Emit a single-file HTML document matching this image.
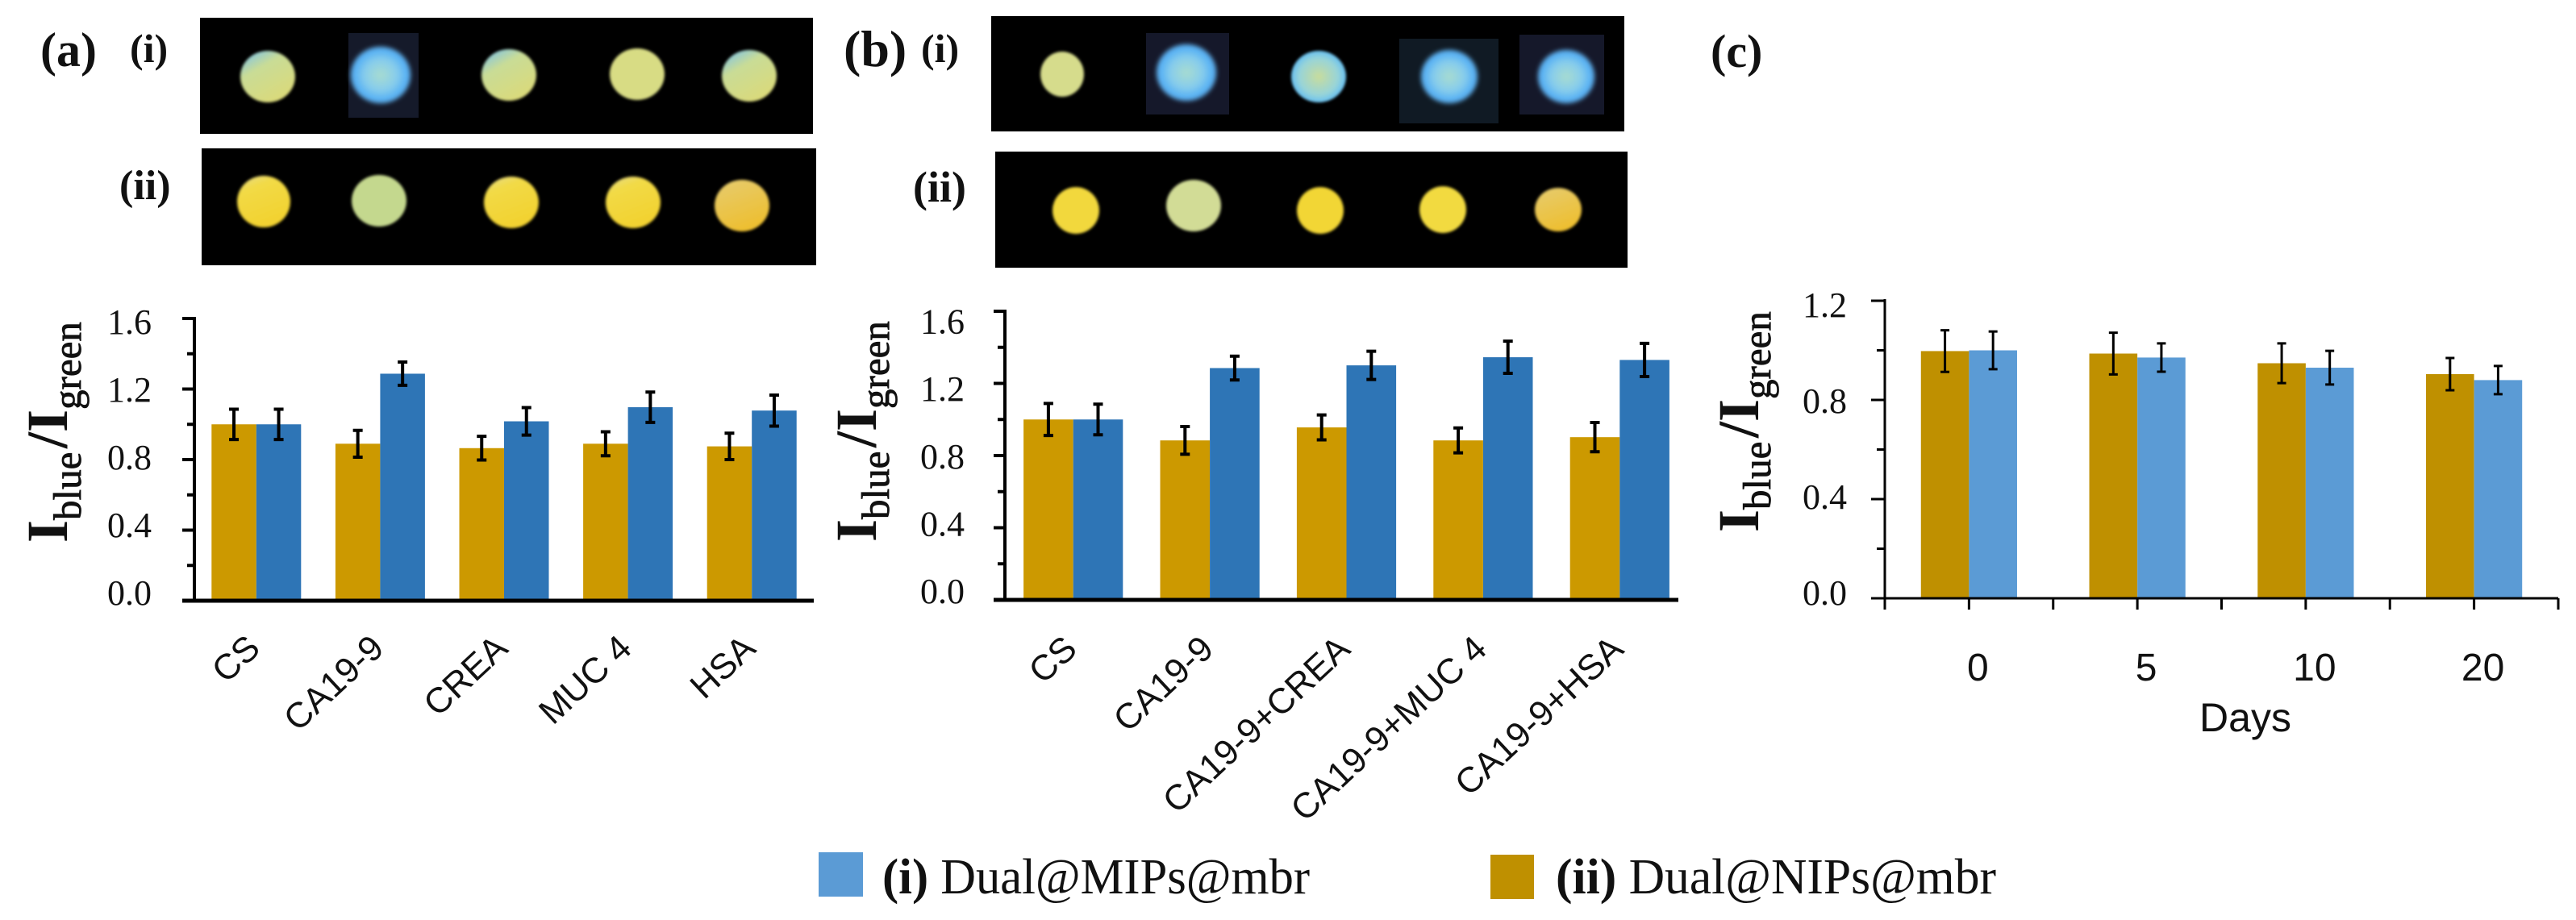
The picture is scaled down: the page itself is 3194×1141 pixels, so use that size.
<!DOCTYPE html>
<html lang="en">
<head>
<meta charset="utf-8">
<title>Dual@MIPs@mbr selectivity and stability</title>
<style>
html,body{margin:0;padding:0;background:#fff;width:3194px;height:1141px;overflow:hidden}
svg{display:block}
.serif{font-family:"Liberation Serif",serif}
.sans{font-family:"Liberation Sans",sans-serif}
.plabel{font-family:"Liberation Serif",serif;font-weight:bold;fill:#111}
</style>
</head>
<body>
<svg id="figure" xmlns="http://www.w3.org/2000/svg" width="3194" height="1141" viewBox="0 0 3194 1141">
<defs>
<linearGradient id="paleSpot" x1="0.15" y1="0" x2="0.75" y2="1"><stop offset="0" stop-color="#7fc4e6"/><stop offset="0.33" stop-color="#c9dc96"/><stop offset="1" stop-color="#dcd978"/></linearGradient>
<radialGradient id="blueSpot"><stop offset="0" stop-color="#a8dcd0"/><stop offset="0.55" stop-color="#86ccec"/><stop offset="0.9" stop-color="#52aef5"/><stop offset="1" stop-color="#6ab8f0"/></radialGradient>
<radialGradient id="blueGreenSpot"><stop offset="0" stop-color="#c8dc9c"/><stop offset="0.7" stop-color="#98d4d8"/><stop offset="1" stop-color="#68c0f0"/></radialGradient>
<linearGradient id="yellowSpot" x1="0" y1="0" x2="0.4" y2="1"><stop offset="0" stop-color="#e6dc90"/><stop offset="0.3" stop-color="#f2da46"/><stop offset="1" stop-color="#f2d230"/></linearGradient>
<linearGradient id="orangeSpot" x1="0" y1="0" x2="0.4" y2="1"><stop offset="0" stop-color="#e6cc70"/><stop offset="1" stop-color="#edbf32"/></linearGradient>
<filter id="soft" x="-20%" y="-20%" width="140%" height="140%"><feGaussianBlur stdDeviation="1.5"/></filter>
<filter id="softer" x="-20%" y="-20%" width="140%" height="140%"><feGaussianBlur stdDeviation="3"/></filter>
</defs>

<text class="plabel" x="50" y="82" font-size="60">(a)</text>
<text class="plabel" x="161" y="77" font-size="50">(i)</text>
<text class="plabel" x="148" y="247" font-size="52">(ii)</text>
<text class="plabel" x="1046" y="82" font-size="64">(b)</text>
<text class="plabel" x="1142" y="77" font-size="50">(i)</text>
<text class="plabel" x="1132" y="250" font-size="54">(ii)</text>
<text class="plabel" x="2121" y="83" font-size="58">(c)</text>

<g>
<rect x="248" y="22" width="760" height="144" fill="#000"/>
<rect x="432" y="41" width="87" height="105" fill="#151a2a"/>
<ellipse cx="332" cy="95" rx="34" ry="32" fill="url(#paleSpot)" filter="url(#soft)"/>
<ellipse cx="472" cy="93" rx="37" ry="35" fill="url(#blueSpot)" filter="url(#softer)"/>
<ellipse cx="631" cy="93" rx="34" ry="32" fill="url(#paleSpot)" filter="url(#soft)"/>
<ellipse cx="790" cy="92" rx="34" ry="32" fill="#d8dc84" filter="url(#soft)"/>
<ellipse cx="929" cy="94" rx="34" ry="32" fill="url(#paleSpot)" filter="url(#soft)"/>
</g>
<g>
<rect x="250" y="184" width="762" height="145" fill="#000"/>
<ellipse cx="327" cy="250" rx="33" ry="32" fill="url(#yellowSpot)" filter="url(#soft)"/>
<ellipse cx="470" cy="249" rx="34" ry="32" fill="#c4d88e" filter="url(#soft)"/>
<ellipse cx="634" cy="251" rx="34" ry="32" fill="url(#yellowSpot)" filter="url(#soft)"/>
<ellipse cx="785" cy="251" rx="34" ry="32" fill="url(#yellowSpot)" filter="url(#soft)"/>
<ellipse cx="920" cy="255" rx="34" ry="32" fill="url(#orangeSpot)" filter="url(#soft)"/>
</g>
<g>
<rect x="1229" y="20" width="785" height="143" fill="#000"/>
<rect x="1421" y="41" width="103" height="101" fill="#15182a"/>
<rect x="1735" y="48" width="123" height="105" fill="#101a24"/>
<rect x="1884" y="43" width="105" height="99" fill="#15182a"/>
<ellipse cx="1317" cy="92" rx="27" ry="28" fill="#d6dc8c" filter="url(#soft)"/>
<ellipse cx="1471" cy="90" rx="37" ry="35" fill="url(#blueSpot)" filter="url(#softer)"/>
<ellipse cx="1635" cy="95" rx="34" ry="32" fill="url(#blueGreenSpot)" filter="url(#soft)"/>
<ellipse cx="1797" cy="95" rx="35" ry="33" fill="url(#blueSpot)" filter="url(#softer)"/>
<ellipse cx="1942" cy="95" rx="35" ry="33" fill="url(#blueSpot)" filter="url(#softer)"/>
</g>
<g>
<rect x="1234" y="188" width="784" height="144" fill="#000"/>
<ellipse cx="1334" cy="261" rx="29" ry="29" fill="#f2d83e" filter="url(#soft)"/>
<ellipse cx="1480" cy="255" rx="34" ry="32" fill="#d2dc96" filter="url(#soft)"/>
<ellipse cx="1637" cy="261" rx="29" ry="29" fill="#f2d634" filter="url(#soft)"/>
<ellipse cx="1789" cy="260" rx="29" ry="29" fill="#f2da40" filter="url(#soft)"/>
<ellipse cx="1932" cy="260" rx="29" ry="27" fill="url(#orangeSpot)" filter="url(#soft)"/>
</g>

<g>
<rect x="1015" y="1057" width="55" height="55" fill="#5B9BD5"/>
<text class="serif" x="1094" y="1108" font-size="62" textLength="530" lengthAdjust="spacingAndGlyphs" fill="#111"><tspan font-weight="bold">(i)</tspan> Dual@MIPs@mbr</text>
<rect x="1848" y="1060" width="54" height="55" fill="#BF9000"/>
<text class="serif" x="1929" y="1108" font-size="62" textLength="546" lengthAdjust="spacingAndGlyphs" fill="#111"><tspan font-weight="bold">(ii)</tspan> Dual@NIPs@mbr</text>
</g>
</svg>

<script>
const categoriesA = ["CS", "CA19-9", "CREA", "MUC 4", "HSA"];
const nipValuesA = [1.0, 0.89, 0.865, 0.89, 0.875];
const mipValuesA = [1.0, 1.287, 1.017, 1.097, 1.078];
const nipErrorsA = [0.086, 0.076, 0.067, 0.068, 0.075];
const mipErrorsA = [0.086, 0.066, 0.078, 0.086, 0.088];

const categoriesB = ["CS", "CA19-9", "CA19-9+CREA", "CA19-9+MUC 4", "CA19-9+HSA"];
const nipValuesB = [1.0, 0.884, 0.956, 0.884, 0.902];
const mipValuesB = [1.0, 1.285, 1.3, 1.345, 1.33];
const nipErrorsB = [0.089, 0.077, 0.069, 0.069, 0.081];
const mipErrorsB = [0.085, 0.066, 0.078, 0.089, 0.092];

const categoriesC = ["0", "5", "10", "20"];
const nipValuesC = [0.997, 0.987, 0.948, 0.904];
const mipValuesC = [1.0, 0.971, 0.93, 0.88];
const nipErrorsC = [0.084, 0.084, 0.08, 0.065];
const mipErrorsC = [0.076, 0.057, 0.068, 0.057];

const tickLabelsAB = ["0.0", "0.4", "0.8", "1.2", "1.6"];
const tickLabelsC = ["0.0", "0.4", "0.8", "1.2"];

const svg = document.getElementById('figure');
const NS = 'http://www.w3.org/2000/svg';

function mk(tag, attrs, parent) {
  const n = document.createElementNS(NS, tag);
  for (const k in attrs) n.setAttribute(k, attrs[k]);
  parent.appendChild(n);
  return n;
}

function drawChart(o) {
  const root = mk('g', {}, svg);
  
  

  const maxV = parseFloat(o.tickLabels[o.tickLabels.length - 1]);
  const yScale = v => o.y0 - (o.y0 - o.yTop) * v / maxV;
  const n = o.categories.length;
  const step = (o.xEnd - o.x0) / n;
  const xCenter = i => o.x0 + step * (i + 0.5);

  o.categories.forEach((cat, i) => {
    const series = [
      {v: o.nip[i], e: o.nipErr[i], c: o.nipColor, x: xCenter(i) - o.barW, s: 'nip'},
      {v: o.mip[i], e: o.mipErr[i], c: o.mipColor, x: xCenter(i), s: 'mip'}
    ];
    series.forEach(b => {
      const bar = mk('rect', {x: b.x, y: yScale(b.v), width: o.barW, height: o.y0 - yScale(b.v), fill: b.c}, root);
      
      
    });
    series.forEach(b => {
      const cx = b.x + o.barW / 2;
      const eb = mk('path', {
        d: 'M' + cx + ' ' + yScale(b.v + b.e) + 'V' + yScale(b.v - b.e) +
           'M' + (cx - o.capW / 2) + ' ' + yScale(b.v + b.e) + 'H' + (cx + o.capW / 2) +
           'M' + (cx - o.capW / 2) + ' ' + yScale(b.v - b.e) + 'H' + (cx + o.capW / 2),
        stroke: '#000', 'stroke-width': o.errW, fill: 'none'
      }, root);
      
      
    });
  });

  const yAxis = mk('line', {x1: o.x0, x2: o.x0, y1: o.yTop - 2, y2: o.y0, stroke: '#000', 'stroke-width': o.axisW}, root);
  
  
  const xAxis = mk('line', {x1: o.x0 - o.majorLen, x2: o.baseEnd, y1: o.y0, y2: o.y0, stroke: '#000', 'stroke-width': o.baseW}, root);
  
  

  o.tickLabels.forEach((lab, i) => {
    const v = parseFloat(lab);
    const tick = mk('line', {x1: o.x0 - o.majorLen, x2: o.x0, y1: yScale(v), y2: yScale(v), stroke: '#000', 'stroke-width': o.tickW}, root);
    
    
    const t = mk('text', {x: o.labelRight, y: o.labelBase - o.labelSlope * v, 'text-anchor': 'end', 'font-size': o.tickFont, fill: '#111', class: 'serif'}, root);
    t.textContent = lab;
    
    
    if (i < o.tickLabels.length - 1) {
      const mv = (v + parseFloat(o.tickLabels[i + 1])) / 2;
      const minor = mk('line', {x1: o.x0 - o.minorLen, x2: o.x0, y1: yScale(mv), y2: yScale(mv), stroke: '#000', 'stroke-width': o.tickW}, root);
      
      
    }
  });

  const title = mk('text', {transform: 'translate(' + o.titleX + ',' + o.titleBottom + ') rotate(-90)', class: 'serif', fill: '#111'}, root);
  
  
  const main = {'font-size': 72, 'font-weight': 'bold'};
  const sub = {'font-size': 49, stroke: '#111', 'stroke-width': 0.8};
  [['I', main, 0, 0], ['blue', sub, 28, o.subDy], ['/', main, 117, 0], ['I', main, 137, 0], ['green', sub, 165, o.subDy]].forEach(p => {
    const ts = mk('tspan', Object.assign({x: p[2], y: p[3]}, p[1]), title);
    ts.textContent = p[0];
  });

  if (o.rotated) {
    o.categories.forEach((cat, i) => {
      const lx = xCenter(i) + 7;
      const t = mk('text', {x: lx, y: o.catY, 'text-anchor': 'end', 'font-size': o.catFont, fill: '#111', class: 'sans', transform: 'rotate(-43 ' + lx + ' ' + o.catY + ')'}, root);
      t.textContent = cat;
      
      
    });
  } else {
    const half = step / 2;
    for (let i = 0; i <= n * 2; i++) {
      const tx = o.x0 + half * i;
      const tick = mk('line', {x1: tx, x2: tx, y1: o.y0, y2: o.y0 + 14, stroke: '#000', 'stroke-width': o.tickW}, root);
      
      
    }
    o.categories.forEach((cat, i) => {
      const t = mk('text', {x: xCenter(i) + 11, y: o.catY, 'text-anchor': 'middle', 'font-size': o.catFont, fill: '#111', class: 'sans'}, root);
      t.textContent = cat;
      
      
    });
    const xt = mk('text', {x: 2784, y: 907, 'text-anchor': 'middle', 'font-size': 50, fill: '#111', class: 'sans'}, root);
    xt.textContent = 'Days';
    
    
  }
}

drawChart({
  name: 'chart-a', categories: categoriesA, nip: nipValuesA, mip: mipValuesA, nipErr: nipErrorsA, mipErr: mipErrorsA,
  tickLabels: tickLabelsAB, nipColor: '#CC9900', mipColor: '#2E75B6',
  x0: 241, xEnd: 1009, baseEnd: 1009, y0: 745, yTop: 395, barW: 55.5, capW: 12, errW: 4,
  axisW: 4, baseW: 5, tickW: 4, majorLen: 15, minorLen: 9,
  labelRight: 188, labelBase: 750, labelSlope: 210, tickFont: 44,
  titleX: 83, titleBottom: 673, subDy: 17, rotated: true, catY: 807, catFont: 44
});
drawChart({
  name: 'chart-b', categories: categoriesB, nip: nipValuesB, mip: mipValuesB, nipErr: nipErrorsB, mipErr: mipErrorsB,
  tickLabels: tickLabelsAB, nipColor: '#CC9900', mipColor: '#2E75B6',
  x0: 1246, xEnd: 2093, baseEnd: 2081, y0: 744, yTop: 386, barW: 61.6, capW: 12, errW: 4,
  axisW: 4, baseW: 5, tickW: 4, majorLen: 14, minorLen: 9,
  labelRight: 1196, labelBase: 748, labelSlope: 209, tickFont: 44,
  titleX: 1086, titleBottom: 672, subDy: 16, rotated: true, catY: 808, catFont: 44
});
drawChart({
  name: 'chart-c', categories: categoriesC, nip: nipValuesC, mip: mipValuesC, nipErr: nipErrorsC, mipErr: mipErrorsC,
  tickLabels: tickLabelsC, nipColor: '#BF9000', mipColor: '#5B9BD5',
  x0: 2337, xEnd: 3172, baseEnd: 3172, y0: 742, yTop: 373, barW: 59.6, capW: 11, errW: 3,
  axisW: 3, baseW: 3, tickW: 3, majorLen: 17, minorLen: 10,
  labelRight: 2290, labelBase: 750, labelSlope: 297.5, tickFont: 44,
  titleX: 2180, titleBottom: 660, subDy: 15, rotated: false, catY: 844, catFont: 48
});
</script>
</body>
</html>
